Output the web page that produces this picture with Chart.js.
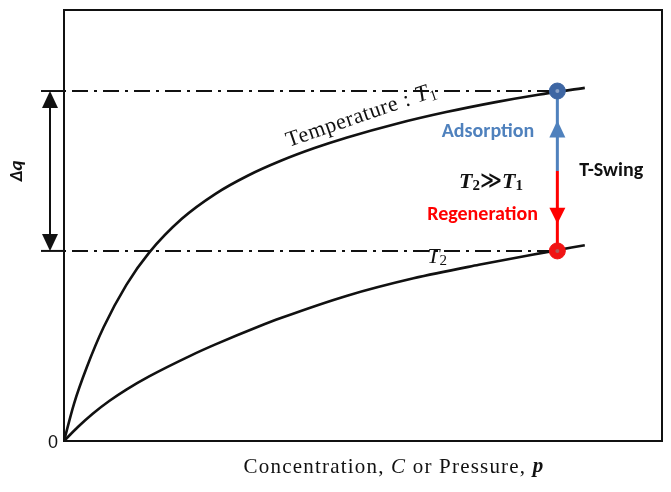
<!DOCTYPE html>
<html><head><meta charset="utf-8">
<script src="https://cdn.jsdelivr.net/npm/chart.js@4/dist/chart.umd.min.js"></script>
<style>html,body{margin:0;padding:0;background:#fff}#wrap{width:671px;height:492px;position:relative}</style>
</head><body><div id="wrap"><canvas id="c"></canvas></div>
<script>
// Isotherm at T1 (concentration/pressure vs loading, arbitrary units 0..10)
const t1X = [0, 0.166, 0.381, 0.662, 1.043, 1.424, 1.970, 2.533, 3.079, 3.626, 4.189, 4.735, 5.563, 6.391, 7.219, 7.930, 8.709];
const t1Y = [0, 0.858, 1.710, 2.638, 3.624, 4.371, 5.155, 5.735, 6.160, 6.501, 6.796, 7.042, 7.361, 7.631, 7.863, 8.035, 8.193];
// Isotherm at T2
const t2X = [0, 0.232, 0.480, 0.762, 1.043, 1.424, 2.136, 2.533, 3.245, 3.626, 4.735, 5.844, 6.937, 8.046, 8.709];
const t2Y = [0, 0.325, 0.633, 0.933, 1.193, 1.499, 1.993, 2.241, 2.650, 2.852, 3.371, 3.775, 4.088, 4.376, 4.543];
// loading levels (upper at T1, lower at T2) and the operating point
const levels = [8.12, 4.41];
const swingX = [8.25];
const axisRange = [0, 10];
const zeroTick = ['0'];

const serif = '"Liberation Serif", "Times New Roman", serif';
const sans = 'Carlito, Lato, "Liberation Sans", sans-serif';

const pts = (xs, ys) => xs.map((x, i) => ({x, y: ys[i]}));
const yMid = (levels[0] + levels[1]) / 2;

function drawRich(ctx, segs, x, y, align, spacing) {
  ctx.letterSpacing = (spacing || 0) + 'px';
  let w = 0;
  segs.forEach(s => { ctx.font = s.f; s.w = ctx.measureText(s.t).width; w += s.w; });
  let cx = align === 'center' ? x - w / 2 : x;
  segs.forEach(s => { ctx.font = s.f; ctx.fillText(s.t, cx, y + (s.dy || 0)); cx += s.w; });
  ctx.letterSpacing = '0px';
}
function tri(ctx, x, tipY, baseY, half, color) {
  ctx.fillStyle = color;
  ctx.beginPath(); ctx.moveTo(x, tipY); ctx.lineTo(x - half, baseY); ctx.lineTo(x + half, baseY); ctx.closePath(); ctx.fill();
}

const deco = {
  id: 'deco',
  afterDatasetsDraw(chart) {
    const ctx = chart.ctx, xs = chart.scales.x, ys = chart.scales.y, a = chart.chartArea;
    ctx.save();
    // frame
    ctx.strokeStyle = '#111'; ctx.lineWidth = 2;
    ctx.strokeRect(a.left, a.top, a.right - a.left, a.bottom - a.top);
    // solid ticks left of axis at levels
    levels.forEach(l => { const py = ys.getPixelForValue(l); ctx.beginPath(); ctx.moveTo(a.left - 23, py); ctx.lineTo(a.left, py); ctx.stroke(); });
    // double arrow Δq
    const ax = a.left - 14, yT = ys.getPixelForValue(levels[0]), yB = ys.getPixelForValue(levels[1]);
    ctx.beginPath(); ctx.moveTo(ax, yT + 10); ctx.lineTo(ax, yB - 10); ctx.stroke();
    tri(ctx, ax, yT, yT + 17, 8, '#111');
    tri(ctx, ax, yB, yB - 17, 8, '#111');
    // arrowheads on swing line
    const sx = xs.getPixelForValue(swingX[0]), yM = ys.getPixelForValue(yMid);
    const upTip = yT + 0.37 * (yM - yT);
    tri(ctx, sx, upTip, upTip + 17, 8, '#4f81bd');
    const dnTip = yM + 0.66 * (yB - yM);
    tri(ctx, sx, dnTip, dnTip - 16, 8, '#ff0000');
    // dot centers
    ctx.fillStyle = '#8aa2c8'; ctx.beginPath(); ctx.arc(sx, yT, 2, 0, Math.PI * 2); ctx.fill();
    ctx.fillStyle = '#b05a5a'; ctx.beginPath(); ctx.arc(sx, yB, 2, 0, Math.PI * 2); ctx.fill();

    ctx.fillStyle = '#111';
    // zero tick
    ctx.font = '18px "Liberation Sans", Arial, sans-serif'; ctx.textAlign = 'right'; ctx.textBaseline = 'middle';
    ctx.fillText(zeroTick[0], a.left - 6, ys.getPixelForValue(0) + 2);
    ctx.textAlign = 'left'; ctx.textBaseline = 'middle';
    // x title
    drawRich(ctx, [
      {t: 'Concentration, ', f: '21px ' + serif},
      {t: 'C', f: 'italic 21px ' + serif},
      {t: ' or Pressure, ', f: '21px ' + serif},
      {t: 'p', f: 'italic bold 21px ' + serif}
    ], (a.left + a.right) / 2 + 31, a.bottom + 26, 'center', 1.2);
    // Δq
    ctx.save(); ctx.translate(a.left - 47, ys.getPixelForValue(yMid)); ctx.rotate(-Math.PI / 2);
    drawRich(ctx, [{t: 'Δq', f: 'italic bold 19px ' + sans}], 0, 0, 'center');
    ctx.restore();
    // Temperature : T1 along curve
    ctx.save(); ctx.translate(xs.getPixelForValue(3.76), ys.getPixelForValue(6.82)); ctx.rotate(-19 * Math.PI / 180);
    ctx.textBaseline = 'alphabetic';
    drawRich(ctx, [
      {t: 'Temperature : ', f: '22px ' + serif},
      {t: 'T', f: 'italic 23px ' + serif},
      {t: '1', f: '15px ' + serif, dy: 3}
    ], 0, 0, 'left', 0.6);
    ctx.restore();
    ctx.textBaseline = 'middle';
    // T2 label
    drawRich(ctx, [{t: 'T', f: 'italic 22px ' + serif}, {t: '2', f: '15px ' + serif, dy: 4}], xs.getPixelForValue(6.24), ys.getPixelForValue(4.27), 'center');
    // T2 >> T1
    drawRich(ctx, [
      {t: 'T', f: 'italic bold 22px ' + serif}, {t: '2', f: 'bold 15px ' + serif, dy: 4},
      {t: '≫', f: 'bold 21px "DejaVu Sans", sans-serif'},
      {t: 'T', f: 'italic bold 22px ' + serif}, {t: '1', f: 'bold 15px ' + serif, dy: 4}
    ], xs.getPixelForValue(7.14), ys.getPixelForValue(6.01), 'center');
    // colored labels
    ctx.fillStyle = '#4f81bd';
    drawRich(ctx, [{t: 'Adsorption', f: 'bold 20px ' + sans}], xs.getPixelForValue(7.09), ys.getPixelForValue(7.18), 'center');
    ctx.fillStyle = '#ff0000';
    drawRich(ctx, [{t: 'Regeneration', f: 'bold 20px ' + sans}], xs.getPixelForValue(7.0), ys.getPixelForValue(5.24), 'center');
    ctx.fillStyle = '#111';
    drawRich(ctx, [{t: 'T-Swing', f: 'bold 20px ' + sans}], xs.getPixelForValue(9.15), ys.getPixelForValue(6.26), 'center');
    ctx.restore();
  }
};

new Chart(document.getElementById('c'), {
  type: 'scatter',
  data: {
    datasets: [
      {label: 'T1 point', data: [{x: swingX[0], y: levels[0]}], pointRadius: 8, pointBackgroundColor: '#3e66a3', pointBorderColor: '#3e66a3', order: 0},
      {label: 'T2 point', data: [{x: swingX[0], y: levels[1]}], pointRadius: 8, pointBackgroundColor: '#f01414', pointBorderColor: '#f01414', order: 0},
      {label: 'Adsorption', data: [{x: swingX[0], y: levels[0]}, {x: swingX[0], y: yMid}], showLine: true, borderColor: '#4f81bd', borderWidth: 3, pointRadius: 0, order: 1},
      {label: 'Regeneration', data: [{x: swingX[0], y: yMid}, {x: swingX[0], y: levels[1]}], showLine: true, borderColor: '#ff0000', borderWidth: 3, pointRadius: 0, order: 1},
      {label: 'T1', data: pts(t1X, t1Y), showLine: true, borderColor: '#111', borderWidth: 2.6, pointRadius: 0, cubicInterpolationMode: 'monotone', order: 2},
      {label: 'T2', data: pts(t2X, t2Y), showLine: true, borderColor: '#111', borderWidth: 2.6, pointRadius: 0, cubicInterpolationMode: 'monotone', order: 2},
      {label: 'upper level', data: [{x: 0, y: levels[0]}, {x: swingX[0], y: levels[0]}], showLine: true, borderColor: '#111', borderWidth: 2, borderDash: [16, 6, 3, 6], borderDashOffset: -8, pointRadius: 0, order: 3},
      {label: 'lower level', data: [{x: 0, y: levels[1]}, {x: swingX[0], y: levels[1]}], showLine: true, borderColor: '#111', borderWidth: 2, borderDash: [16, 6, 3, 6], borderDashOffset: -8, pointRadius: 0, order: 3}
    ]
  },
  options: {
    responsive: true, maintainAspectRatio: false, animation: false,
    layout: {padding: {left: 64, right: 3, top: 10, bottom: 51}},
    plugins: {legend: {display: false}, tooltip: {enabled: false}},
    scales: {
      x: {type: 'linear', min: axisRange[0], max: axisRange[1], display: false},
      y: {type: 'linear', min: axisRange[0], max: axisRange[1], display: false}
    }
  },
  plugins: [deco]
});
</script></body></html>
